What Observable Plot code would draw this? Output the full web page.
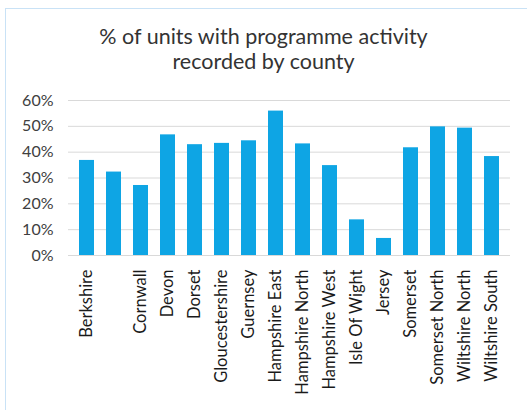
<!DOCTYPE html>
<html>
<head>
<meta charset="utf-8">
<script src="https://cdn.jsdelivr.net/npm/d3@7"></script>
<script src="https://cdn.jsdelivr.net/npm/@observablehq/plot@0.6"></script>
<style>
  html, body { margin: 0; padding: 0; background: #fff; width: 527px; height: 410px; overflow: hidden; }
  #frame { position: absolute; left: 5px; top: 8px; width: 540px; height: 420px; border: 1.5px solid #C9E2F6; box-sizing: border-box; }
  #title { position: absolute; left: 0; top: 24px; width: 527px; text-align: center; font-family: Lato, "Open Sans", sans-serif; font-size: 21.5px; line-height: 25px; color: #333; }
  #chart { position: absolute; left: 0; top: 85px; }
</style>
</head>
<body>
<div id="frame"></div>
<div id="title">% of units with programme activity<br>recorded by county</div>
<div id="chart"></div>
<script>
const counties = ["Berkshire", "", "Cornwall", "Devon", "Dorset", "Gloucestershire", "Guernsey", "Hampshire East", "Hampshire North", "Hampshire West", "Isle Of Wight", "Jersey", "Somerset", "Somerset North", "Wiltshire North", "Wiltshire South"];
const values = [36.8, 32.3, 27.1, 46.7, 42.9, 43.4, 44.4, 55.9, 43.2, 34.8, 13.8, 6.6, 41.7, 49.8, 49.3, 38.3];
const yTicks = [0, 10, 20, 30, 40, 50, 60];

const data = counties.map((c, i) => ({county: c, value: values[i]}));

const chart = Plot.plot({
  width: 527,
  height: 315,
  marginLeft: 68,
  marginRight: 17,
  marginTop: 15,
  marginBottom: 145,
  style: {fontFamily: "Lato, 'Open Sans', sans-serif", background: "transparent"},
  x: {domain: counties, paddingInner: 0.45, paddingOuter: 0.225, label: null},
  y: {domain: [0, 60], label: null},
  marks: [
    Plot.gridY(yTicks, {stroke: "#D9D9D9", strokeOpacity: 1, strokeWidth: 1}),
    Plot.barY(data, {x: "county", y: "value", fill: "#0EA5E4"}),
    Plot.ruleY([0], {stroke: "#D9D9D9"}),
    Plot.axisY(yTicks, {tickSize: 0, tickPadding: 15, tickFormat: d => d + "%", fontSize: 16, fill: "#404040", label: null}),
    Plot.axisX({tickSize: 0, tickPadding: 14, tickRotate: -90, fontSize: 16.5, fill: "#1a1a1a", label: null})
  ]
});
document.getElementById("chart").appendChild(chart);
</script>
</body>
</html>
